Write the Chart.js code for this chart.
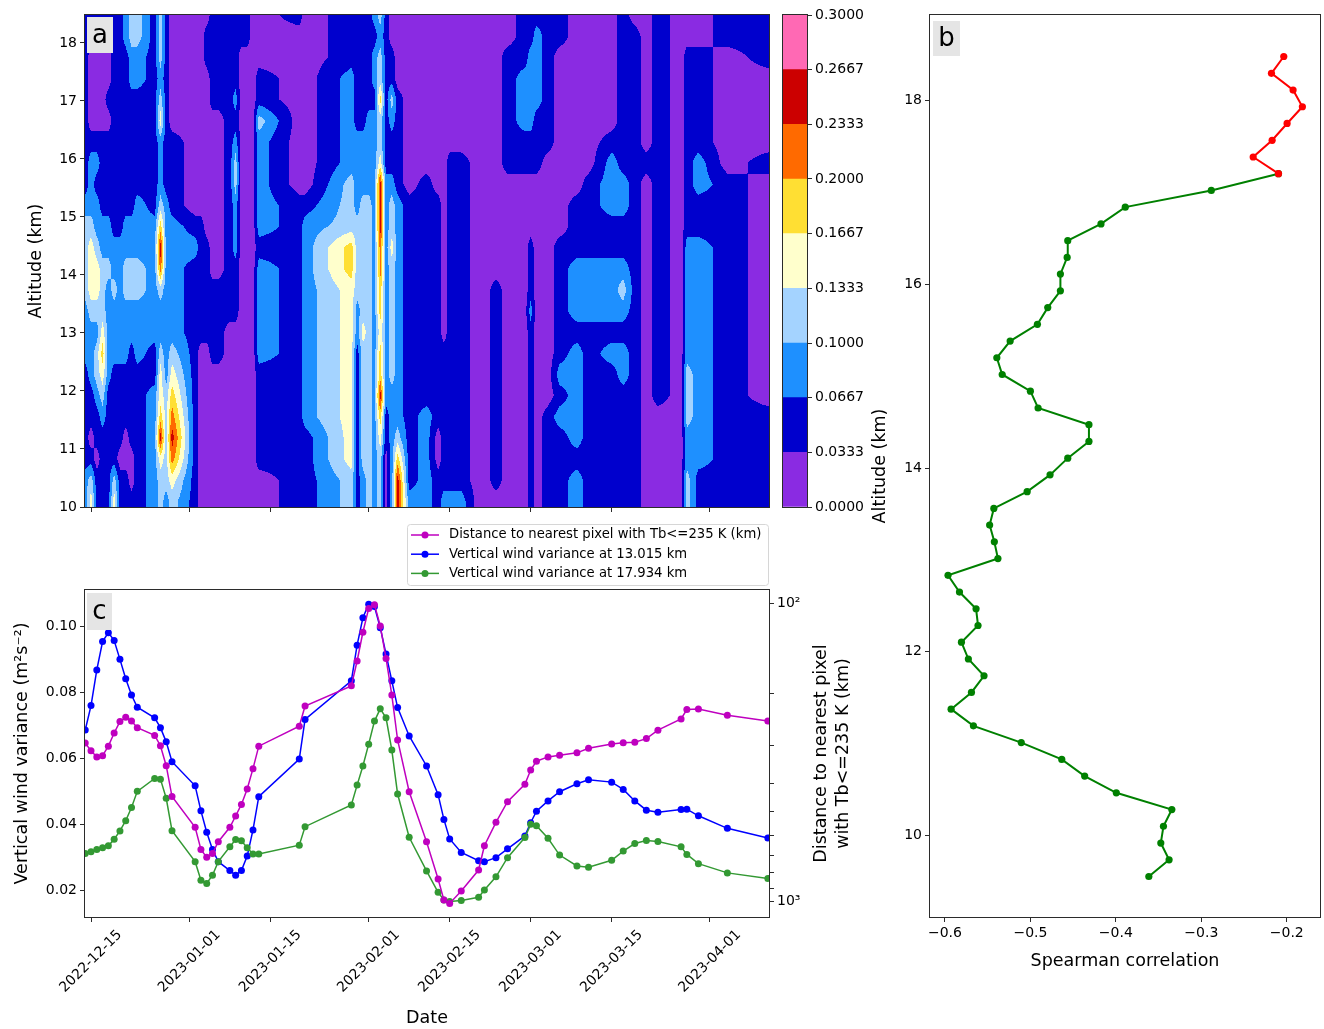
<!DOCTYPE html>
<html lang="en">
<head>
<meta charset="utf-8">
<title>Vertical wind variance and distance to deep convection</title>
<script src="https://cdn.jsdelivr.net/npm/chart.js@4.4.1/dist/chart.umd.min.js"></script>
<style>
  html, body { margin: 0; background: #fff; }
  #fig { position: relative; width: 1324px; height: 1029px; background: #fff; overflow: hidden; }
  #fig canvas { position: absolute; }
</style>
</head>
<body>
<div id="fig">
  <canvas id="panelA" width="780" height="520" style="left:0;top:0;width:780px;height:520px"></canvas>
  <canvas id="cbar" width="100" height="520" style="left:770px;top:0;width:100px;height:520px"></canvas>
  <canvas id="panelB" width="464" height="990" style="left:860px;top:0;width:464px;height:990px"></canvas>
  <canvas id="panelC" width="870" height="514" style="left:0;top:515px;width:870px;height:514px"></canvas>
</div>
<script>
// sounding days
const dates = ['2022-12-14','2022-12-15','2022-12-16','2022-12-17','2022-12-18','2022-12-19','2022-12-20',
  '2022-12-21','2022-12-22','2022-12-23','2022-12-26','2022-12-27','2022-12-28','2022-12-29',
  '2023-01-02','2023-01-03','2023-01-04','2023-01-05','2023-01-06','2023-01-08','2023-01-09','2023-01-10',
  '2023-01-11','2023-01-12','2023-01-13','2023-01-20','2023-01-21','2023-01-29','2023-01-30','2023-01-31',
  '2023-02-01','2023-02-02','2023-02-03','2023-02-04','2023-02-05','2023-02-06','2023-02-08','2023-02-11',
  '2023-02-13','2023-02-14','2023-02-15','2023-02-17','2023-02-20','2023-02-21','2023-02-23','2023-02-25',
  '2023-02-28','2023-03-01','2023-03-02','2023-03-04','2023-03-06','2023-03-09','2023-03-11','2023-03-15',
  '2023-03-17','2023-03-19','2023-03-21','2023-03-23','2023-03-27','2023-03-28','2023-03-30','2023-04-04',
  '2023-04-11'];

// vertical wind variance (m2 s-2) at 13.015 km and 17.934 km
const var13 = [0.0687,0.0761,0.0869,0.0955,0.0982,0.0958,0.0901,0.0842,0.0793,0.0756,0.0724,0.0694,0.0651,0.0591,
  0.0518,0.0442,0.0377,0.0325,0.0288,0.0261,0.0247,0.0261,0.0305,0.0384,0.0485,0.0599,0.0719,0.0836,0.0944,0.1027,
  0.1068,0.1061,0.0997,0.0917,0.0836,0.0755,0.0669,0.0578,0.0491,0.0416,0.0357,0.0316,0.0291,0.0288,0.0300,0.0327,0.0366,
  0.0406,0.0441,0.0472,0.0500,0.0524,0.0536,0.0529,0.0507,0.0472,0.0444,0.0438,0.0446,0.0447,0.0427,
  0.0389,0.0360];
const var18 = [0.0313,0.0318,0.0325,0.0330,0.0336,0.0356,0.0381,0.0412,0.0452,0.0501,0.0540,0.0538,0.0480,0.0382,
  0.0288,0.0232,0.0222,0.0247,0.0288,0.0333,0.0355,0.0351,0.0330,0.0311,0.0311,0.0338,0.0394,0.0460,0.0520,0.0578,
  0.0644,0.0714,0.0751,0.0724,0.0626,0.0493,0.0362,0.0260,0.0195,0.0172,0.0167,0.0170,0.0180,0.0202,0.0242,0.0300,0.0361,
  0.0401,0.0397,0.0359,0.0308,0.0275,0.0271,0.0292,0.0320,0.0343,0.0352,0.0349,0.0333,0.0310,0.0282,
  0.0254,0.0237];
// distance to nearest pixel with Tb <= 235 K (km)
const tbDistance = [294,312,327,324,301,272,249,241,248,261,277,300,350,444,
  563,668,710,689,629,563,516,472,419,358,301,258,221,189,156,125,
  104,101,119,153,203,287,428,629,839,986,1013,921,783,649,542,462,404,
  362,338,327,323,317,306,296,293,292,284,266,244,227,226,
  237,248];

const dateTicks = ['2022-12-15','2023-01-01','2023-01-15','2023-02-01','2023-02-15','2023-03-01','2023-03-15','2023-04-01'];

// range gates (km) and Spearman correlation per gate
const gateAlt = [9.553,9.735,9.917,10.100,10.282,10.464,10.646,10.828,11.011,11.193,
  11.375,11.557,11.739,11.921,12.104,12.286,12.468,12.650,12.832,13.015,
  13.197,13.379,13.561,13.743,13.926,14.108,14.290,14.472,14.654,14.837,
  15.019,15.201,15.383,15.565,15.747,15.930,16.112,16.294,16.476,16.658,
  16.841,17.023,17.205,17.387,17.569,17.752,17.934,18.116,18.298,18.481];
const spearman = [-0.3614,-0.3377,-0.3474,-0.3443,-0.3345,-0.3995,-0.4365,-0.4633,-0.5107,-0.5667,
  -0.5928,-0.5690,-0.5543,-0.5726,-0.5807,-0.5613,-0.5636,-0.5830,-0.5964,-0.5380,
  -0.5422,-0.5477,-0.5428,-0.5038,-0.4770,-0.4563,-0.4315,-0.4315,-0.4910,-0.5000,
  -0.5330,-0.5393,-0.5237,-0.4918,-0.4797,-0.4649,-0.4649,-0.4570,-0.4563,-0.4174,
  -0.3890,-0.2883,-0.2097,-0.2393,-0.2171,-0.1996,-0.1817,-0.1926,-0.2179,-0.2035];
const RED_FROM = 42; // gates from 17.205 km up are drawn red

// filled-contour levels and colours
const levelEdges = [0.0, 0.03333, 0.06667, 0.1, 0.13333, 0.16667, 0.2, 0.23333, 0.26667, 0.3];
const levelColors = ['#8a2be2','#0000cd','#1e90ff','#a4d3ff','#ffffcc','#ffdf33','#ff6a00','#cc0000','#ff69b4'];

// variance band per sounding day (one string per day), one digit per gate
// 10.100, 10.464, ... 18.481 km (every second gate, bottom to top)
const varianceLevels = [
  '221111122233332111111111','431011222344432221000011','110112332344322121000011','111123454333221111000011',
  '111111222223221111010011','431111122232211111111111','110111122222211111111111','110011122233221111111122',
  '100111112233221111112233','111111122233222111112233','222222112222221111111111','334754432236753222432333',
  '233333222222222111111111','346765432222221111000000','111111111111210000000000','000000001111110000000000',
  '000000001111100000000110','000000011110000000011111','000000011110000000011111','000000000111111111111111',
  '000000000111222332121111','000000000000000000000011','000000000000000000000011','000000000000000000000000',
  '001111122222122222311000','111111111111111000000001','111122222222221000000000','334444444445533322222111',
  '111111112233332222111111','223333334333333222111111','333333333333333222211111','222222222222222222212212',
  '333457554556677743353323','000112222222222211111111','222222333333433211231100','775322222222222111110000',
  '211111111111111000000000','222221111111111100000000','110011111111111000000000','211111110000000000000000',
  '211111111111111110000000','211111111111111110000000','000000000000000000000000','000000000000000000000000',
  '011111111110000000000000','000000000000000011111100','000000000000000011222111','111111111211100011222211',
  '000000000000000011122221','111110000000000001111111','111121211111100000000011','221222221222111000000000',
  '111111111222111100000000','111111121222112221000000','111111221232112211111111','111111111111111111111110',
  '000000000000000010000000','000001111111111111111111','000000000000000000000000','332233322222211111111100',
  '112222222222211221111100','111111111111111100000011','111110000000000010000111'
];

const MAGENTA = '#bf00bf', BLUE = '#0000ff', GREEN = '#339933';
const INK = '#2b2b2b';
const FONT = "'DejaVu Sans', sans-serif";

Chart.defaults.font.family = FONT;
Chart.defaults.font.size = 14;
Chart.defaults.color = '#000';

const DAY_MS = 86400000;
const T0 = Date.UTC(2022, 11, 15);
const dayOf = s => { const [y, m, d] = s.split('-').map(Number); return (Date.UTC(y, m - 1, d) - T0) / DAY_MS; };
const dayNums = dates.map(dayOf);
const tickDays = dateTicks.map(dayOf);
const X_MIN = -1.04, X_MAX = 117.2;

function axis(opts) {
  const { ticks = {}, grid = {}, ...rest } = opts;
  return {
    type: 'linear',
    grid: { drawOnChartArea: false, drawTicks: true, tickLength: 5, color: INK, lineWidth: 1, ...grid },
    border: { display: false },
    ticks: { padding: 3, color: '#000', font: { size: 14 }, autoSkip: false, maxRotation: 0, ...ticks },
    ...rest
  };
}
const fixedTicks = vals => scale => { scale.ticks = vals.map(v => ({ value: v })); };
const fixedSize = (prop, n) => scale => { scale[prop] = n; };
const axisTitle = (text, padding) => ({ display: true, text, font: { size: 17.5 }, padding });
const baseOptions = pad => ({
  responsive: false, devicePixelRatio: 1, animation: false,
  layout: { padding: pad },
  plugins: { legend: { display: false }, tooltip: { enabled: false } }
});

// axes box on all four sides
const frame = {
  id: 'frame',
  afterDraw(chart) {
    const { ctx, chartArea: a } = chart;
    ctx.save();
    ctx.strokeStyle = INK;
    ctx.lineWidth = 1;
    ctx.strokeRect(Math.round(a.left) - 0.5, Math.round(a.top) - 0.5,
      Math.round(a.right - a.left) + 1, Math.round(a.bottom - a.top) + 1);
    ctx.restore();
  }
};

// panel letter in a grey box
const panelTag = {
  id: 'panelTag',
  afterDraw(chart, args, opt) {
    if (!opt.text) return;
    const { ctx, chartArea: a } = chart;
    const x = a.left + opt.dx, y = a.top + opt.dy;
    ctx.save();
    ctx.fillStyle = '#e5e5e5';
    ctx.fillRect(x, y, opt.w, opt.h);
    ctx.fillStyle = '#000';
    ctx.font = '26px ' + FONT;
    ctx.textAlign = 'center';
    ctx.textBaseline = 'middle';
    ctx.fillText(opt.text, x + opt.w / 2, y + opt.h / 2 + 1);
    ctx.restore();
  }
};

// ---------- panel a: filled contours of variance ----------
const fieldAlt = gateAlt.filter((a, k) => k >= 3 && k % 2 === 1);
const bandMid = levelColors.map((c, k) => (levelEdges[k] + levelEdges[k + 1]) / 2);
const bandRGB = levelColors.map(h => [1, 3, 5].map(i => parseInt(h.slice(i, i + 2), 16)));

function bracket(arr, v) {
  let i = 0;
  while (i < arr.length - 2 && arr[i + 1] < v) i++;
  const t = Math.min(1, Math.max(0, (v - arr[i]) / (arr[i + 1] - arr[i])));
  return [i, t];
}

const fieldPlugin = {
  id: 'varianceField',
  beforeDatasetsDraw(chart) {
    const { ctx, chartArea: a, scales: { x, y } } = chart;
    const w = Math.round(a.right - a.left), h = Math.round(a.bottom - a.top);
    const off = document.createElement('canvas');
    off.width = w; off.height = h;
    const octx = off.getContext('2d');
    const img = octx.createImageData(w, h);
    const colB = [], rowB = [];
    for (let px = 0; px < w; px++) colB.push(bracket(dayNums, x.getValueForPixel(a.left + px + 0.5)));
    for (let py = 0; py < h; py++) rowB.push(bracket(fieldAlt, y.getValueForPixel(a.top + py + 0.5)));
    const val = (i, j) => bandMid[+varianceLevels[i][j]];
    for (let py = 0; py < h; py++) {
      const [j, u] = rowB[py];
      for (let px = 0; px < w; px++) {
        const [i, t] = colB[px];
        const v = (1 - t) * ((1 - u) * val(i, j) + u * val(i, j + 1)) +
                  t * ((1 - u) * val(i + 1, j) + u * val(i + 1, j + 1));
        let k = 0;
        while (k < levelColors.length - 1 && v >= levelEdges[k + 1]) k++;
        const c = bandRGB[k], o = (py * w + px) * 4;
        img.data[o] = c[0]; img.data[o + 1] = c[1]; img.data[o + 2] = c[2]; img.data[o + 3] = 255;
      }
    }
    octx.putImageData(img, 0, 0);
    ctx.drawImage(off, Math.round(a.left), Math.round(a.top));
  }
};

const optA = baseOptions({ top: 15, right: 11, left: 0, bottom: 0 });
optA.plugins.panelTag = { text: 'a', dx: 2, dy: 2, w: 26, h: 36 };
optA.scales = {
  x: axis({ min: X_MIN, max: X_MAX, ticks: { display: false },
    afterBuildTicks: fixedTicks(tickDays), afterFit: fixedSize('height', 13) }),
  y: axis({ min: 10, max: 18.481, afterBuildTicks: fixedTicks([10, 11, 12, 13, 14, 15, 16, 17, 18]),
    afterFit: fixedSize('width', 85), ticks: { callback: v => String(v) },
    title: axisTitle('Altitude (km)', { top: 25.5, bottom: 0 }) })
};
new Chart(document.getElementById('panelA'), {
  type: 'scatter',
  data: { datasets: [] },
  options: optA,
  plugins: [fieldPlugin, frame, panelTag]
});

// ---------- colour bar ----------
const optCb = baseOptions({ top: 15, right: 0, left: 13, bottom: 13 });
optCb.scales = {
  x: { display: false },
  y: axis({ position: 'right', min: 0, max: 0.3, afterBuildTicks: fixedTicks(levelEdges),
    afterFit: fixedSize('width', 63), ticks: { callback: v => v.toFixed(4) } })
};
new Chart(document.getElementById('cbar'), {
  type: 'bar',
  data: {
    labels: [''],
    datasets: levelColors.map((c, k) => ({
      data: [[levelEdges[k], levelEdges[k + 1]]], backgroundColor: c, borderWidth: 0,
      barPercentage: 1, categoryPercentage: 1, grouped: false
    }))
  },
  options: optCb,
  plugins: [frame]
});

// ---------- panel b: Spearman correlation profile ----------
const corrPts = gateAlt.map((a, k) => ({ x: spearman[k], y: a }));
const profileStyle = color => ({
  showLine: true, borderColor: color, backgroundColor: color, borderWidth: 2,
  pointRadius: 3.6, pointBorderWidth: 0, pointHoverRadius: 3.6
});
const optB = baseOptions({ top: 15, right: 4, left: 0, bottom: 0 });
optB.plugins.panelTag = { text: 'b', dx: 3, dy: 6, w: 27, h: 35 };
optB.scales = {
  x: axis({ min: -0.6175, max: -0.1611, afterBuildTicks: fixedTicks([-0.6, -0.5, -0.4, -0.3, -0.2]),
    afterFit: fixedSize('height', 73), ticks: { callback: v => '\u2212' + Math.abs(v).toFixed(1) },
    title: axisTitle('Spearman correlation', { top: 0, bottom: 18.5 }) }),
  y: axis({ min: 9.112, max: 18.933, afterBuildTicks: fixedTicks([10, 12, 14, 16, 18]),
    afterFit: fixedSize('width', 70), ticks: { callback: v => String(v) },
    title: axisTitle('Altitude (km)', { top: 9.5, bottom: 0 }) })
};
new Chart(document.getElementById('panelB'), {
  type: 'scatter',
  data: {
    datasets: [
      { data: corrPts.slice(RED_FROM), ...profileStyle('#ff0000') },
      { data: corrPts.slice(0, RED_FROM + 1), ...profileStyle('#008000') }
    ]
  },
  options: optB,
  plugins: [frame, panelTag]
});

// ---------- panel c: time series ----------
const seriesStyle = color => ({
  showLine: true, borderColor: color, backgroundColor: color, borderWidth: 1.5,
  pointRadius: 3.5, pointBorderWidth: 0, pointHoverRadius: 3.5
});
const seriesC = [
  { label: 'Distance to nearest pixel with Tb<=235 K (km)', yAxisID: 'y2', color: MAGENTA,
    data: dayNums.map((d, i) => ({ x: d, y: tbDistance[i] })) },
  { label: 'Vertical wind variance at 17.934 km', yAxisID: 'y', color: GREEN,
    data: dayNums.map((d, i) => ({ x: d, y: var18[i] })) },
  { label: 'Vertical wind variance at 13.015 km', yAxisID: 'y', color: BLUE,
    data: dayNums.map((d, i) => ({ x: d, y: var13[i] })) }
];
const legendOrder = [0, 2, 1];

const legendBox = {
  id: 'legendBox',
  afterDraw(chart) {
    const { ctx } = chart;
    const x0 = 407, y0 = 9, w = 361, h = 61;
    ctx.save();
    ctx.beginPath();
    ctx.roundRect(x0 + 0.5, y0 + 0.5, w, h, 3);
    ctx.fillStyle = 'rgba(255,255,255,0.8)';
    ctx.fill();
    ctx.strokeStyle = '#d6d6d6';
    ctx.lineWidth = 1;
    ctx.stroke();
    ctx.font = '13.2px ' + FONT;
    ctx.textBaseline = 'middle';
    ctx.textAlign = 'left';
    legendOrder.forEach((di, row) => {
      const s = seriesC[di], cy = y0 + 11 + row * 19.2;
      ctx.strokeStyle = s.color;
      ctx.lineWidth = 1.5;
      ctx.beginPath(); ctx.moveTo(x0 + 4, cy); ctx.lineTo(x0 + 32, cy); ctx.stroke();
      ctx.fillStyle = s.color;
      ctx.beginPath(); ctx.arc(x0 + 18, cy, 3.5, 0, Math.PI * 2); ctx.fill();
      ctx.fillStyle = '#000';
      ctx.fillText(s.label, x0 + 42, cy);
    });
    ctx.restore();
  }
};

// right axis title reads bottom-to-top, two lines
const rightTitle = {
  id: 'rightTitle',
  afterDraw(chart) {
    const { ctx, chartArea: a } = chart;
    const cy = (a.top + a.bottom) / 2;
    ctx.save();
    ctx.font = '17.5px ' + FONT;
    ctx.fillStyle = '#000';
    ctx.textAlign = 'center';
    ctx.textBaseline = 'middle';
    [['Distance to nearest pixel', a.right + 52], ['with Tb<=235 K (km)', a.right + 74]].forEach(([t, x]) => {
      ctx.save(); ctx.translate(x, cy); ctx.rotate(-Math.PI / 2); ctx.fillText(t, 0, 0); ctx.restore();
    });
    ctx.restore();
  }
};

// 45-degree date labels centred under their ticks
const dateLabels = {
  id: 'dateLabels',
  afterDraw(chart) {
    const { ctx, chartArea: a, scales: { x } } = chart;
    ctx.save();
    ctx.font = '14px ' + FONT;
    ctx.fillStyle = '#000';
    ctx.textAlign = 'center';
    ctx.textBaseline = 'middle';
    dateTicks.forEach((t, i) => {
      const px = x.getPixelForValue(tickDays[i]);
      const half = (ctx.measureText(t).width + 16) * Math.SQRT1_2 / 2;
      ctx.save(); ctx.translate(px, a.bottom + 10 + half); ctx.rotate(-Math.PI / 4); ctx.fillText(t, 0, 0); ctx.restore();
    });
    ctx.restore();
  }
};

const optC = baseOptions({ top: 75, right: 0, left: 0, bottom: 0 });
optC.plugins.panelTag = { text: 'c', dx: 2, dy: 3, w: 25, h: 37 };
optC.scales = {
  x: axis({ min: X_MIN, max: X_MAX, ticks: { display: false },
    afterBuildTicks: fixedTicks(tickDays), afterFit: fixedSize('height', 112),
    title: axisTitle('Date', { top: 0, bottom: 0 }) }),
  y: axis({ position: 'left', min: 0.01203, max: 0.11112, afterBuildTicks: fixedTicks([0.02, 0.04, 0.06, 0.08, 0.1]),
    afterFit: fixedSize('width', 85), ticks: { callback: v => v.toFixed(2) },
    title: axisTitle('Vertical wind variance (m\u00b2s\u207b\u00b2)', { top: 11.5, bottom: 0 }) }),
  y2: axis({ type: 'logarithmic', position: 'right', reverse: true, min: 90.2, max: 1125,
    afterBuildTicks: fixedTicks([100, 200, 300, 400, 500, 600, 700, 800, 900, 1000]),
    afterFit: fixedSize('width', 101),
    ticks: { callback: v => (v === 100 ? '10\u00b2' : v === 1000 ? '10\u00b3' : '') } })
};
new Chart(document.getElementById('panelC'), {
  type: 'scatter',
  data: {
    datasets: seriesC.map(s => ({ label: s.label, data: s.data, yAxisID: s.yAxisID, ...seriesStyle(s.color) }))
  },
  options: optC,
  plugins: [frame, panelTag, legendBox, rightTitle, dateLabels]
});
</script>
</body>
</html>
